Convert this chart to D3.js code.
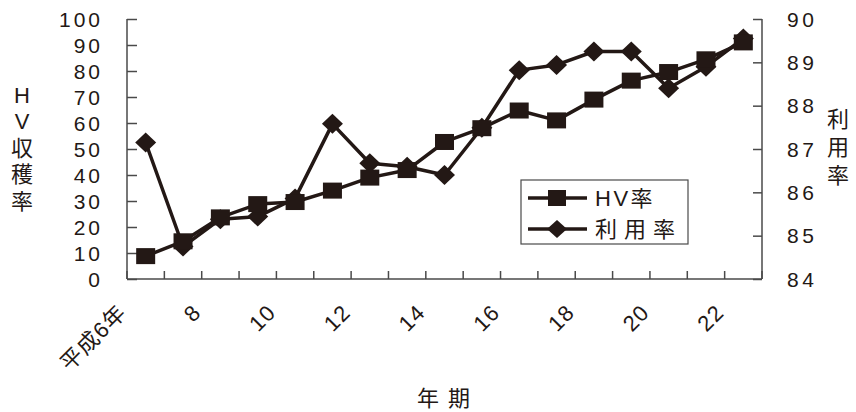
<!DOCTYPE html>
<html><head><meta charset="utf-8">
<script src="https://cdn.jsdelivr.net/npm/d3@7"></script>
<style>
body{margin:0;background:#fff;}
text{font-family:"Liberation Sans","Noto Sans CJK JP",sans-serif;fill:#231815;}
</style></head><body>
<svg id="c" width="856" height="412"></svg>
<script>
const categories = ["平成6年","7","8","9","10","11","12","13","14","15","16","17","18","19","20","21","22"];
const tickLabels = ["平成6年","","8","","10","","12","","14","","16","","18","","20","","22"];
const hvRate = [8.8,14.5,23.7,28.8,29.6,34.0,39.0,41.9,52.7,58.0,64.8,61.0,69.0,76.3,79.6,84.5,91.0];
const useRate = [87.15,84.75,85.38,85.44,85.86,87.58,86.67,86.59,86.4,87.49,88.82,88.94,89.25,89.25,88.4,88.9,89.55];
const leftTicks = [0,10,20,30,40,50,60,70,80,90,100];
const rightTicks = [84,85,86,87,88,89,90];
const seriesNames = ["HV率","利用率"];
const leftTitle = ["H","V","収","穫","率"];
const rightTitle = ["利","用","率"];
const xTitle = "年期";

const svg = d3.select("#c");
const L=127, R=762, T=19, B=279;
const ink="#231815", axisCol="#4a4a4a";
const x = d3.scaleBand().domain(categories).range([L,R]).paddingInner(0).paddingOuter(0);
const yL = d3.scaleLinear().domain([0,100]).range([B,T]);
const yR = d3.scaleLinear().domain([84,90]).range([B,T]);
const cx = d => x(d)+x.bandwidth()/2;

// left axis
const gL = svg.append("g").attr("transform",`translate(${L},0)`)
  .call(d3.axisRight(yL).tickValues(leftTicks).tickSize(10).tickFormat(""));
gL.select(".domain").attr("d",`M0,${T}V${B}`);
gL.selectAll("line,path").attr("stroke",axisCol).attr("stroke-width",1.5);
svg.append("g").selectAll("text").data(leftTicks).join("text")
  .attr("x",103).attr("y",d=>yL(d)).attr("dy","0.36em").attr("text-anchor","end")
  .attr("font-size",21).attr("letter-spacing",3).text(d=>d);

// right axis
const gR = svg.append("g").attr("transform",`translate(${R},0)`)
  .call(d3.axisLeft(yR).tickValues(rightTicks).tickSize(9).tickFormat(""));
gR.select(".domain").attr("d",`M0,${T}V${B}`);
gR.selectAll("line,path").attr("stroke",axisCol).attr("stroke-width",1.5);
svg.append("g").selectAll("text").data(rightTicks).join("text")
  .attr("x",787).attr("y",d=>yR(d)).attr("dy","0.36em").attr("text-anchor","start")
  .attr("font-size",21).attr("letter-spacing",3.5).text(d=>d);

// bottom axis
svg.append("line").attr("x1",L).attr("x2",R).attr("y1",B).attr("y2",B).attr("stroke",axisCol).attr("stroke-width",1.5);
const bounds = categories.map(c=>x(c)).concat([R]);
svg.append("g").selectAll("line").data(bounds).join("line")
  .attr("x1",d=>d).attr("x2",d=>d).attr("y1",B).attr("y2",B-8).attr("stroke",axisCol).attr("stroke-width",1.5);
const xl = svg.append("g").selectAll("g").data(categories).join("g")
  .attr("transform",(d,i)=>`translate(${cx(d)-18},314) rotate(-45)`);
xl.append("text").attr("x",0).attr("y",0)
  .attr("text-anchor","end").attr("font-size",22).attr("letter-spacing",1)
  .text((d,i)=>tickLabels[i]);

// titles
svg.append("g").selectAll("text").data(leftTitle).join("text")
  .attr("x",22).attr("y",(d,i)=>95+i*26.5).attr("dy","0.36em").attr("text-anchor","middle")
  .attr("font-size",22).text(d=>d);
svg.append("g").selectAll("text").data(rightTitle).join("text")
  .attr("x",838).attr("y",(d,i)=>119+i*28).attr("dy","0.36em").attr("text-anchor","middle")
  .attr("font-size",22).text(d=>d);
svg.append("text").attr("x",417).attr("y",398).attr("dy","0.36em").attr("font-size",22)
  .attr("letter-spacing",9).text(xTitle);

// lines
const lineL = d3.line().x((d,i)=>cx(categories[i])).y(d=>yL(d));
const lineR = d3.line().x((d,i)=>cx(categories[i])).y(d=>yR(d));
svg.append("path").datum(useRate).attr("d",lineR).attr("fill","none").attr("stroke",ink).attr("stroke-width",3.5).attr("stroke-linejoin","round");
svg.append("g").selectAll("path").data(useRate).join("path")
  .attr("d",(d,i)=>{const px=cx(categories[i]),py=yR(d);return `M${px},${py-10}L${px+10.5},${py}L${px},${py+10}L${px-10.5},${py}Z`;})
  .attr("fill",ink);
svg.append("path").datum(hvRate).attr("d",lineL).attr("fill","none").attr("stroke",ink).attr("stroke-width",3.5).attr("stroke-linejoin","round");
svg.append("g").selectAll("rect").data(hvRate).join("rect")
  .attr("x",(d,i)=>cx(categories[i])-9.5).attr("y",d=>yL(d)-8).attr("width",19).attr("height",16)
  .attr("fill",ink);

// legend
const lg = svg.append("g");
lg.append("rect").attr("x",521).attr("y",180).attr("width",167).attr("height",64).attr("fill","#fff").attr("stroke",axisCol).attr("stroke-width",1.2);
const rows=[198,229];
rows.forEach((ry,k)=>{
  lg.append("line").attr("x1",528).attr("x2",587).attr("y1",ry).attr("y2",ry).attr("stroke",ink).attr("stroke-width",3.5);
  if(k===0) lg.append("rect").attr("x",548).attr("y",ry-8).attr("width",18).attr("height",16).attr("fill",ink);
  else lg.append("path").attr("d",`M557,${ry-9}L567,${ry}L557,${ry+9}L547,${ry}Z`).attr("fill",ink);
  lg.append("text").attr("x",595).attr("y",ry).attr("dy","0.36em").attr("font-size",22)
    .attr("letter-spacing",k===0?2.5:7).text(seriesNames[k]);
});
</script></body></html>
